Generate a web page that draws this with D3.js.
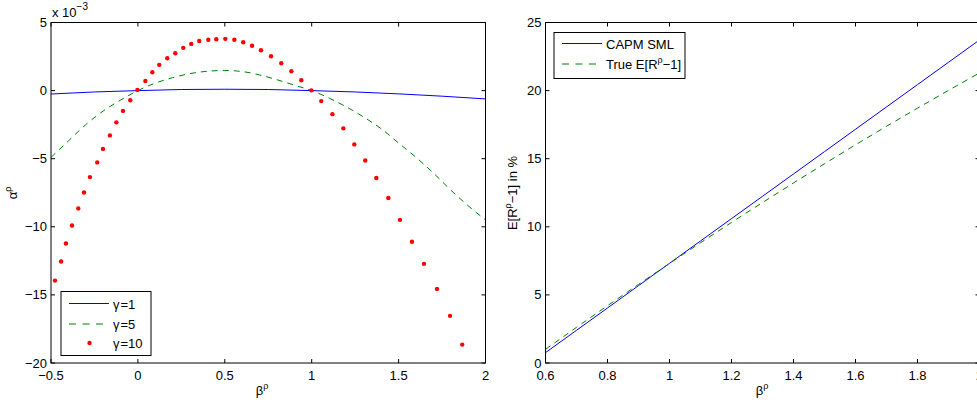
<!DOCTYPE html>
<html>
<head>
<meta charset="utf-8">
<script src="https://d3js.org/d3.v7.min.js"></script>
<style>
  body { margin: 0; background: #fff; }
  text { font-family: "Liberation Sans", Arial, sans-serif; font-size: 13px; fill: #000; }
</style>
</head>
<body>
<svg id="chart" width="977" height="407"></svg>
<script>
// ---- left panel data (alpha in units of 1e-3) ----
const betaG1 = [-0.5, -0.25, 0, 0.25, 0.5, 0.75, 1.0, 1.25, 1.5, 1.75, 2.0];
const alphaG1 = [-0.25, -0.1, 0, 0.08, 0.1, 0.08, 0, -0.1, -0.24, -0.41, -0.61];

const betaG5 = [-0.5, -0.4, -0.3, -0.2, -0.1, 0, 0.1, 0.2, 0.3, 0.4, 0.5, 0.6, 0.7, 0.8, 0.9,
                1.0, 1.1, 1.2, 1.3, 1.4, 1.5, 1.6, 1.7, 1.8, 1.9, 2.0];
const alphaG5 = [-4.9, -3.7, -2.5, -1.5, -0.7, 0, 0.55, 0.95, 1.25, 1.42, 1.48, 1.4, 1.15, 0.8, 0.4,
                 0, -0.55, -1.2, -1.95, -2.8, -3.85, -4.9, -6.05, -7.3, -8.45, -9.5];

const betaG10 = [-0.477, -0.442, -0.414, -0.379, -0.343, -0.310, -0.276, -0.234, -0.201, -0.161,
                 -0.124, -0.086, -0.044, -0.003, 0.043, 0.083, 0.123, 0.169, 0.215, 0.261,
                 0.307, 0.353, 0.405, 0.451, 0.503, 0.555, 0.606, 0.657, 0.708, 0.766,
                 0.825, 0.883, 0.940, 0.998, 1.055, 1.119, 1.182, 1.245, 1.308, 1.372,
                 1.441, 1.508, 1.577, 1.646, 1.721, 1.796, 1.866];
const alphaG10 = [-13.95, -12.55, -11.23, -9.90, -8.65, -7.48, -6.35, -5.27, -4.28, -3.29,
                  -2.33, -1.49, -0.71, 0.05, 0.71, 1.35, 1.89, 2.38, 2.74, 3.14,
                  3.43, 3.64, 3.73, 3.77, 3.80, 3.73, 3.55, 3.29, 2.96, 2.52,
                  2.01, 1.42, 0.76, 0.02, -0.77, -1.73, -2.77, -3.95, -5.13, -6.42,
                  -7.89, -9.49, -11.10, -12.72, -14.56, -16.54, -18.65];

const leftXTicks = [-0.5, 0, 0.5, 1, 1.5, 2];
const leftYTicks = [-20, -15, -10, -5, 0, 5];

// ---- right panel data (expected return in %) ----
const betaR = [0.6, 0.7, 0.8, 0.9, 1.0, 1.1, 1.2, 1.3, 1.4, 1.5, 1.6, 1.7, 1.8, 1.9, 2.0];
const capmSML = [0.76, 2.40, 4.04, 5.68, 7.32, 8.96, 10.60, 12.24, 13.88, 15.52, 17.16, 18.80, 20.44, 22.08, 23.72];
const trueER = [1.00, 2.62, 4.21, 5.77, 7.31, 8.83, 10.32, 11.78, 13.22, 14.63, 16.02, 17.38, 18.71, 20.02, 21.30];

const rightXTicks = [0.6, 0.8, 1, 1.2, 1.4, 1.6, 1.8, 2];
const rightYTicks = [0, 5, 10, 15, 20, 25];

const svg = d3.select("#chart");
const plotTop = 22.5, plotBottom = 363, tickLen = 4;

function fmt(v) {
  const s = String(v);
  return v < 0 ? "\u2212" + s.slice(1) : s;
}

// draws box, ticks on all four sides, tick labels
function drawAxes(x, y, xTicks, yTicks) {
  const [x0, x1] = x.range();
  const g = svg.append("g");
  g.append("rect").attr("x", x0).attr("y", plotTop).attr("width", x1 - x0).attr("height", plotBottom - plotTop)
    .attr("fill", "none").attr("stroke", "#000").attr("stroke-width", 1);
  xTicks.forEach(t => {
    const px = x(t);
    g.append("line").attr("x1", px).attr("x2", px).attr("y1", plotBottom).attr("y2", plotBottom - tickLen).attr("stroke", "#000");
    g.append("line").attr("x1", px).attr("x2", px).attr("y1", plotTop).attr("y2", plotTop + tickLen).attr("stroke", "#000");
    g.append("text").attr("x", px).attr("y", plotBottom + 17).attr("text-anchor", "middle").text(fmt(t));
  });
  yTicks.forEach(t => {
    const py = y(t);
    g.append("line").attr("x1", x0).attr("x2", x0 + tickLen).attr("y1", py).attr("y2", py).attr("stroke", "#000");
    g.append("line").attr("x1", x1).attr("x2", x1 - tickLen).attr("y1", py).attr("y2", py).attr("stroke", "#000");
    g.append("text").attr("x", x0 - 4).attr("y", py + 4.5).attr("text-anchor", "end").text(fmt(t));
  });
}

// ---------------- left panel ----------------
const xL = d3.scaleLinear().domain([-0.5, 2]).range([51, 485.5]);
const yL = d3.scaleLinear().domain([-20, 5]).range([plotBottom, plotTop]);

const lineL = d3.line().x(d => xL(d[0])).y(d => yL(d[1]));
svg.append("path").datum(d3.zip(betaG1, alphaG1)).attr("d", lineL)
  .attr("fill", "none").attr("stroke", "#0000ff").attr("stroke-width", 1);
svg.append("path").datum(d3.zip(betaG5, alphaG5)).attr("d", d3.line().curve(d3.curveMonotoneX).x(d => xL(d[0])).y(d => yL(d[1])))
  .attr("fill", "none").attr("stroke", "#008000").attr("stroke-width", 1).attr("stroke-dasharray", "6,5");
svg.append("g").selectAll("circle").data(d3.zip(betaG10, alphaG10)).join("circle")
  .attr("cx", d => xL(d[0])).attr("cy", d => yL(d[1])).attr("r", 2.2).attr("fill", "#ff0000");

drawAxes(xL, yL, leftXTicks, leftYTicks);

// exponent label
const ex = svg.append("text").attr("x", 52).attr("y", 17);
ex.append("tspan").text("x 10");
ex.append("tspan").attr("dy", -7).attr("font-size", 10).text("\u22123");

// axis labels
const xlabL = svg.append("text").attr("x", 262).attr("y", 395).attr("text-anchor", "middle");
xlabL.append("tspan").text("\u03b2");
xlabL.append("tspan").attr("dy", -6).attr("font-size", 9).text("\u03c1");

const ylabL = svg.append("text").attr("transform", "translate(17,193) rotate(-90)").attr("text-anchor", "middle");
ylabL.append("tspan").text("\u03b1");
ylabL.append("tspan").attr("dy", -6).attr("font-size", 9).text("\u03c1");

// left legend
const legL = svg.append("g");
legL.append("rect").attr("x", 61).attr("y", 291.5).attr("width", 90).attr("height", 64)
  .attr("fill", "#fff").attr("stroke", "#000");
const rowsL = [
  { y: 303.5, label: "1", kind: "solid" },
  { y: 324, label: "5", kind: "dash" },
  { y: 343, label: "10", kind: "dot" }
];
rowsL.forEach(r => {
  if (r.kind === "dot") {
    legL.append("circle").attr("cx", 89.5).attr("cy", r.y).attr("r", 2.2).attr("fill", "#ff0000");
  } else {
    legL.append("line").attr("x1", 69).attr("x2", 109).attr("y1", r.y).attr("y2", r.y)
      .attr("stroke", r.kind === "solid" ? "#0000ff" : "#008000")
      .attr("stroke-dasharray", r.kind === "dash" ? "7,6.5" : null);
  }
  const t = legL.append("text").attr("x", 113).attr("y", r.y + 5);
  t.append("tspan").text("\u03b3");
  t.append("tspan").attr("dx", 1).text("=" + r.label);
});

// ---------------- right panel ----------------
const xR = d3.scaleLinear().domain([0.6, 2]).range([545.5, 979.5]);
const yR = d3.scaleLinear().domain([0, 25]).range([plotBottom, plotTop]);
const lineR = d3.line().x(d => xR(d[0])).y(d => yR(d[1]));

svg.append("path").datum(d3.zip(betaR, capmSML)).attr("d", lineR)
  .attr("fill", "none").attr("stroke", "#0000ff").attr("stroke-width", 1);
svg.append("path").datum(d3.zip(betaR, trueER)).attr("d", lineR)
  .attr("fill", "none").attr("stroke", "#008000").attr("stroke-width", 1).attr("stroke-dasharray", "6,5");

drawAxes(xR, yR, rightXTicks, rightYTicks);

const xlabR = svg.append("text").attr("x", 762).attr("y", 395).attr("text-anchor", "middle");
xlabR.append("tspan").text("\u03b2");
xlabR.append("tspan").attr("dy", -6).attr("font-size", 9).text("\u03c1");

const ylabR = svg.append("text").attr("transform", "translate(517,193) rotate(-90)").attr("text-anchor", "middle");
ylabR.append("tspan").text("E[R");
ylabR.append("tspan").attr("dy", -6).attr("font-size", 9).text("\u03c1");
ylabR.append("tspan").attr("dy", 6).text("\u22121] in %");

// right legend
const legR = svg.append("g");
legR.append("rect").attr("x", 554).attr("y", 32.5).attr("width", 131).attr("height", 46)
  .attr("fill", "#fff").attr("stroke", "#000");
legR.append("line").attr("x1", 562).attr("x2", 602).attr("y1", 43.5).attr("y2", 43.5).attr("stroke", "#0000ff");
legR.append("line").attr("x1", 562).attr("x2", 602).attr("y1", 64).attr("y2", 64).attr("stroke", "#008000")
  .attr("stroke-dasharray", "7,6.5");
legR.append("text").attr("x", 606).attr("y", 48.5).text("CAPM SML");
const lt = legR.append("text").attr("x", 606).attr("y", 69);
lt.append("tspan").text("True E[R");
lt.append("tspan").attr("dy", -6).attr("font-size", 9).text("\u03c1");
lt.append("tspan").attr("dy", 6).text("\u22121]");
</script>
</body>
</html>
